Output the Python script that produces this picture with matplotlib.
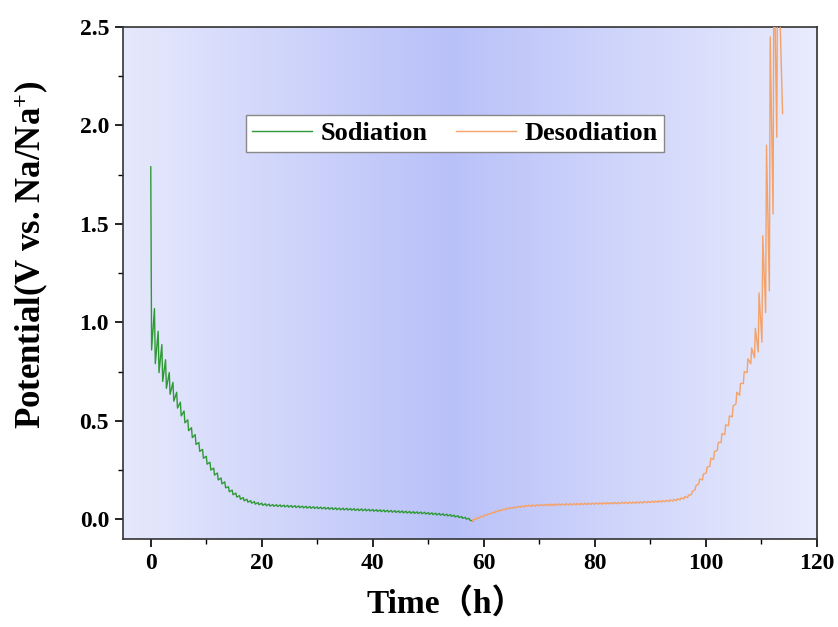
import numpy as np
import matplotlib
matplotlib.use("Agg")
import matplotlib.pyplot as plt
from matplotlib.colors import LinearSegmentedColormap

# ---------------- data ----------------
# GITT: one pulse + relaxation per step
sod_start_h = 0.0
sod_step_h = 2 / 3
sod_pulse_h = 0.15
# open-circuit (relaxed) potential at start of each step, V
sod_ocv = [1.79, 1.07, 0.955, 0.887, 0.81, 0.745, 0.695, 0.645, 0.595, 0.55,
           0.505, 0.465, 0.43, 0.39, 0.355, 0.32, 0.29, 0.26, 0.235, 0.21,
           0.19, 0.165, 0.148, 0.133, 0.12, 0.11, 0.102, 0.095, 0.09, 0.085,
           0.082, 0.079, 0.077, 0.075, 0.074, 0.073, 0.072, 0.071, 0.070, 0.069,
           0.068, 0.067, 0.066, 0.065, 0.064, 0.063, 0.062, 0.061, 0.060, 0.059,
           0.058, 0.057, 0.0565, 0.056, 0.055, 0.054, 0.053, 0.0525, 0.052, 0.051,
           0.050, 0.049, 0.048, 0.047, 0.046, 0.045, 0.044, 0.043, 0.042, 0.041,
           0.040, 0.039, 0.038, 0.037, 0.036, 0.034, 0.033, 0.031, 0.030, 0.028,
           0.026, 0.024, 0.021, 0.018, 0.014, 0.010, 0.005]
# potential at the end of each current pulse, V
sod_ccv = [0.86, 0.79, 0.745, 0.70, 0.665, 0.635, 0.60, 0.565, 0.525, 0.49,
           0.45, 0.415, 0.38, 0.345, 0.31, 0.28, 0.25, 0.225, 0.20, 0.18,
           0.16, 0.14, 0.125, 0.113, 0.102, 0.094, 0.087, 0.082, 0.077, 0.074,
           0.071, 0.069, 0.067, 0.066, 0.065, 0.064, 0.063, 0.062, 0.061, 0.060,
           0.059, 0.058, 0.057, 0.056, 0.055, 0.054, 0.053, 0.052, 0.051, 0.050,
           0.049, 0.048, 0.0475, 0.047, 0.046, 0.045, 0.044, 0.0435, 0.043, 0.042,
           0.041, 0.040, 0.039, 0.038, 0.037, 0.036, 0.035, 0.034, 0.033, 0.032,
           0.031, 0.030, 0.029, 0.028, 0.027, 0.025, 0.024, 0.022, 0.021, 0.019,
           0.017, 0.015, 0.012, 0.009, 0.005, 0.001, -0.004]
sod_end_h = 58.0
sod_end_v = -0.01

des_start_h = 57.9
des_step_h = 0.669
des_pulse_h = 0.15
des_ocv = [-0.01, -0.002, 0.006, 0.013, 0.020, 0.027, 0.033, 0.039, 0.044, 0.049,
           0.053, 0.056, 0.059, 0.061, 0.063, 0.065, 0.066, 0.067, 0.068, 0.069,
           0.0695, 0.070, 0.0705, 0.071, 0.0715, 0.072, 0.0725, 0.073, 0.0735, 0.074,
           0.0745, 0.075, 0.0755, 0.076, 0.0765, 0.077, 0.0775, 0.078, 0.0785, 0.079,
           0.0795, 0.080, 0.0805, 0.081, 0.0815, 0.082, 0.083, 0.084, 0.085, 0.086,
           0.087, 0.088, 0.089, 0.090, 0.092, 0.095, 0.099, 0.104, 0.111, 0.125,
           0.15, 0.18, 0.20, 0.235, 0.27, 0.305, 0.35, 0.39, 0.43, 0.475,
           0.52, 0.585, 0.63, 0.69, 0.745, 0.79, 0.82, 0.85, 0.90, 1.05,
           1.16, 1.55, 1.94]
des_ccv = [0.00, 0.008, 0.015, 0.022, 0.028, 0.035, 0.041, 0.046, 0.051, 0.056,
           0.060, 0.063, 0.066, 0.068, 0.070, 0.072, 0.073, 0.074, 0.075, 0.076,
           0.0765, 0.077, 0.0775, 0.078, 0.0785, 0.079, 0.0795, 0.080, 0.0805, 0.081,
           0.0815, 0.082, 0.0825, 0.083, 0.0835, 0.084, 0.0845, 0.085, 0.0855, 0.086,
           0.0865, 0.087, 0.0875, 0.088, 0.0885, 0.089, 0.090, 0.091, 0.092, 0.093,
           0.094, 0.095, 0.097, 0.099, 0.101, 0.104, 0.109, 0.115, 0.123, 0.14,
           0.17, 0.205, 0.23, 0.265, 0.31, 0.345, 0.39, 0.435, 0.48, 0.525,
           0.575, 0.645, 0.69, 0.75, 0.815, 0.87, 0.97, 1.15, 1.44, 1.90,
           2.45, 2.90, 3.00]
des_end_h = 113.8
des_end_v = 2.06

x_ticks = [0, 20, 40, 60, 80, 100, 120]
y_ticks = [0.0, 0.5, 1.0, 1.5, 2.0, 2.5]


def gitt_path(start, step, pulse, ocv, ccv, end_t, end_v):
    t, v = [], []
    for k, (o, c) in enumerate(zip(ocv, ccv)):
        t0 = start + k * step
        t += [t0, t0 + pulse]
        v += [o, c]
    t.append(end_t)
    v.append(end_v)
    return np.array(t), np.array(v)


sod_t, sod_v = gitt_path(sod_start_h, sod_step_h, sod_pulse_h, sod_ocv, sod_ccv, sod_end_h, sod_end_v)
des_t, des_v = gitt_path(des_start_h, des_step_h, des_pulse_h, des_ocv, des_ccv, des_end_h, des_end_v)

# ---------------- style ----------------
plt.rcParams['font.family'] = ['Liberation Serif', 'Noto Sans CJK SC']
plt.rcParams['font.weight'] = 'bold'
plt.rcParams['mathtext.fontset'] = 'custom'
plt.rcParams['mathtext.rm'] = 'Liberation Serif:bold'
plt.rcParams['mathtext.it'] = 'Liberation Serif:bold'
plt.rcParams['mathtext.bf'] = 'Liberation Serif:bold'

fig = plt.figure(figsize=(8.38, 6.27), dpi=100)
ax = fig.add_axes([123 / 838, 1 - 539 / 627, (817 - 123) / 838, (539 - 27) / 627])

# background gradient
cmap = LinearSegmentedColormap.from_list(
    "bg", [(0.0, "#e6e9fc"), (0.47, "#b9c1f9"), (1.0, "#e9ecfd")])
grad = np.linspace(0, 1, 512).reshape(1, -1)
ax.imshow(grad, cmap=cmap, aspect='auto', extent=[0, 1, 0, 1],
          transform=ax.transAxes, zorder=0, interpolation='bilinear')

ax.plot(sod_t, sod_v, color='#2e9a35', lw=1.0, label='Sodiation', zorder=3)
ax.plot(des_t, des_v, color='#f4a268', lw=1.0, label='Desodiation', zorder=3)

ax.set_xlim(-5, 120)
ax.set_ylim(-0.1, 2.5)
ax.set_xticks(x_ticks)
ax.set_xticklabels([str(v) for v in x_ticks])
ax.set_yticks(y_ticks)
ax.set_yticklabels([f"{v:.1f}" for v in y_ticks])
ax.set_xticks(np.arange(-0, 121, 10), minor=True)
ax.set_yticks(np.arange(0, 2.51, 0.25), minor=True)
ax.tick_params(which='major', direction='out', length=6, width=1.2, labelsize=17, pad=4)
ax.tick_params(which='minor', direction='out', length=3.5, width=1.0)
for lab in ax.get_xticklabels() + ax.get_yticklabels():
    lab.set_fontweight('bold')
for s in ax.spines.values():
    s.set_linewidth(1.2)
    s.set_color('#333333')

ax.set_xlabel('Time（h）', fontsize=24, fontweight='bold')
ax.xaxis.set_label_coords(0.465, -0.095)
ax.set_ylabel('Potential(V vs. Na/Na$^{+}$)', fontsize=25, fontweight='bold')
ax.yaxis.set_label_coords(-0.105, 0.555)

leg = ax.legend(loc='upper left', bbox_to_anchor=(0.177, 0.828), ncol=2,
                borderaxespad=0,
                frameon=True, fancybox=False, edgecolor='#888888', framealpha=1,
                prop={'weight': 'bold', 'size': 19}, handlelength=2.27,
                columnspacing=1.1, handletextpad=0.3, borderpad=0.25)
leg.get_frame().set_linewidth(1.0)

fig.savefig('out.png', dpi=100)
